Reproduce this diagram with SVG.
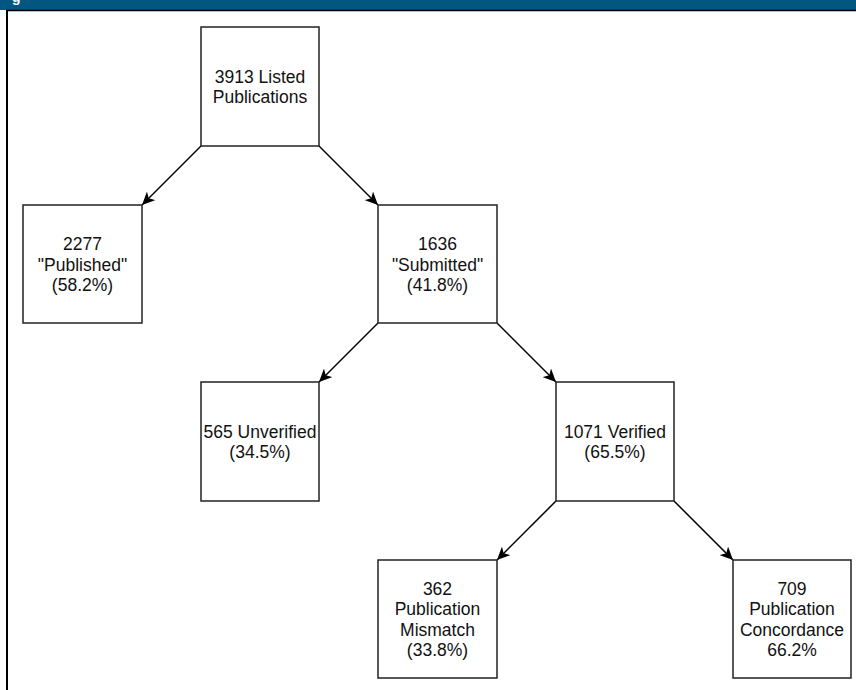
<svg xmlns="http://www.w3.org/2000/svg" width="856" height="690" viewBox="0 0 856 690">
<style>
.box{fill:#ffffff;stroke:#222222;stroke-width:1.5}
.lbl{font-family:"Liberation Sans",Arial,Helvetica,sans-serif;font-size:17.5px;fill:#111111;text-anchor:middle}
.edge{stroke:#000000;stroke-width:1.5;fill:none;marker-end:url(#arr)}
</style>
<defs>
<marker id="arr" markerUnits="userSpaceOnUse" markerWidth="14" markerHeight="12" refX="13" refY="6" orient="auto" viewBox="0 0 14 12">
<path d="M0,0 L13,6 L0,12 L3.5,6 Z" fill="#000000"/>
</marker>
</defs>
<rect width="856" height="690" fill="#ffffff"/>
<g id="header">
<rect x="0" y="0" width="856" height="10" fill="#02567f"/>
<text x="12" y="1.5" font-family="Liberation Sans,Arial,sans-serif" font-weight="bold" font-size="14" fill="#ffffff">g</text>
<line x1="6" y1="10.5" x2="856" y2="10.5" stroke="#000000" stroke-width="1.5"/>
<line x1="7" y1="10" x2="7" y2="690" stroke="#000000" stroke-width="2"/>
</g>
<g id="connectors">
<line class="edge" x1="201" y1="146" x2="142" y2="205"/>
<line class="edge" x1="319" y1="146" x2="378" y2="205"/>
<line class="edge" x1="378" y1="323" x2="319" y2="382"/>
<line class="edge" x1="497" y1="323" x2="556" y2="382"/>
<line class="edge" x1="556" y1="501" x2="497" y2="560"/>
<line class="edge" x1="674" y1="501" x2="733" y2="560"/>
</g>
<g id="listed">
<rect class="box" x="201" y="27" width="118" height="119"/>
<text class="lbl" x="260" y="82.5">3913 Listed</text>
<text class="lbl" x="260" y="103">Publications</text>
</g>
<g id="published">
<rect class="box" x="23" y="205" width="119" height="118"/>
<text class="lbl" x="82.5" y="250">2277</text>
<text class="lbl" x="82.5" y="270.5">"Published"</text>
<text class="lbl" x="82.5" y="291">(58.2%)</text>
</g>
<g id="submitted">
<rect class="box" x="378" y="205" width="119" height="118"/>
<text class="lbl" x="437.5" y="250">1636</text>
<text class="lbl" x="437.5" y="270.5">"Submitted"</text>
<text class="lbl" x="437.5" y="291">(41.8%)</text>
</g>
<g id="unverified">
<rect class="box" x="201" y="382" width="118" height="119"/>
<text class="lbl" x="260" y="437.5">565 Unverified</text>
<text class="lbl" x="260" y="458">(34.5%)</text>
</g>
<g id="verified">
<rect class="box" x="556" y="382" width="118" height="119"/>
<text class="lbl" x="615" y="437.5">1071 Verified</text>
<text class="lbl" x="615" y="458">(65.5%)</text>
</g>
<g id="mismatch">
<rect class="box" x="378" y="560" width="119" height="118"/>
<text class="lbl" x="437.5" y="594.5">362</text>
<text class="lbl" x="437.5" y="615">Publication</text>
<text class="lbl" x="437.5" y="635.5">Mismatch</text>
<text class="lbl" x="437.5" y="656">(33.8%)</text>
</g>
<g id="concordance">
<rect class="box" x="733" y="560" width="118" height="118"/>
<text class="lbl" x="792" y="594.5">709</text>
<text class="lbl" x="792" y="615">Publication</text>
<text class="lbl" x="792" y="635.5">Concordance</text>
<text class="lbl" x="792" y="656">66.2%</text>
</g>
</svg>
